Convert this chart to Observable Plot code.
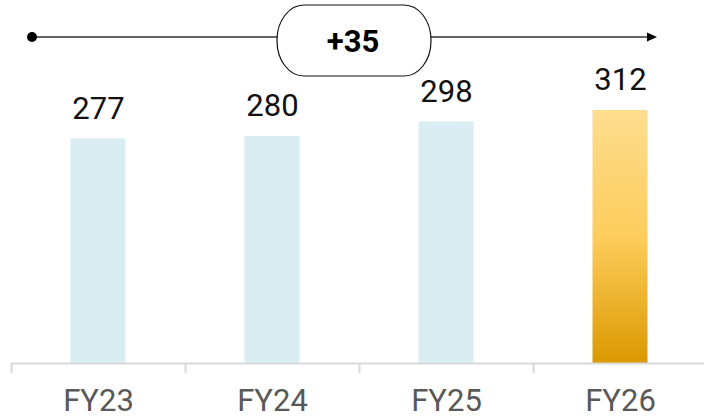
<!DOCTYPE html>
<html>
<head>
<meta charset="utf-8">
<script src="https://cdn.jsdelivr.net/npm/d3@7"></script>
<script src="https://cdn.jsdelivr.net/npm/@observablehq/plot@0.6"></script>
<style>
  html, body { margin: 0; padding: 0; background: #ffffff; }
  #chart { width: 704px; height: 420px; overflow: hidden; }
</style>
</head>
<body>
<div id="chart"></div>
<script>
const years = ["FY23", "FY24", "FY25", "FY26"];
const values = [277, 280, 298, 312];
const highlightYear = "FY26";

const data = years.map((year, i) => ({year, value: values[i]}));
const change = values[values.length - 1] - values[0];
const changeLabel = (change >= 0 ? "+" : "") + change;

const FONT = "Roboto, 'Noto Sans', sans-serif";

function gradientDefs() {
  const defs = d3.create("svg:defs");
  const g = defs.append("linearGradient")
    .attr("id", "goldGrad")
    .attr("x1", 0).attr("y1", 0).attr("x2", 0).attr("y2", 1);
  g.append("stop").attr("offset", "0%").attr("stop-color", "#fddd8f");
  g.append("stop").attr("offset", "50%").attr("stop-color", "#fdcd5c");
  g.append("stop").attr("offset", "100%").attr("stop-color", "#db9900");
  return defs.node();
}

function annotation(index, scales, vals, dimensions) {
  const x = scales.x;
  const step = x(years[1]) - x(years[0]);
  const bw = x.bandwidth ? x.bandwidth() : step;
  const yLine = dimensions.marginTop;
  const xStart = x(years[0]) + bw / 2 - 66;
  const xEnd = x(years[years.length - 1]) + bw / 2 + 37;
  const pillCx = x(years[2]) - 5;
  const pillW = 154, pillH = 71;
  const pillTop = yLine - 32;

  const g = d3.create("svg:g");
  g.append("line")
    .attr("x1", xStart).attr("x2", xEnd - 6)
    .attr("y1", yLine).attr("y2", yLine)
    .attr("stroke", "#333").attr("stroke-width", 1.6);
  g.append("circle")
    .attr("cx", xStart).attr("cy", yLine).attr("r", 5)
    .attr("fill", "#000");
  g.append("path")
    .attr("d", `M${xEnd},${yLine} L${xEnd - 10},${yLine - 4.5} L${xEnd - 10},${yLine + 4.5} Z`)
    .attr("fill", "#000");
  g.append("rect")
    .attr("x", pillCx - pillW / 2).attr("y", pillTop)
    .attr("width", pillW).attr("height", pillH)
    .attr("rx", 27).attr("ry", 35)
    .attr("fill", "#fff").attr("stroke", "#111").attr("stroke-width", 1.2);
  g.append("text")
    .attr("x", pillCx - 1).attr("y", pillTop + 47)
    .attr("text-anchor", "middle")
    .attr("font-family", FONT)
    .attr("font-weight", "bold")
    .attr("font-size", 31)
    .attr("fill", "#000")
    .text(changeLabel);
  return g.node();
}

const plot = Plot.plot({
  width: 704,
  height: 420,
  marginTop: 37,
  marginBottom: 57,
  marginLeft: 11,
  marginRight: 0,
  style: {fontFamily: FONT, background: "#ffffff", overflow: "visible"},
  x: {domain: years, range: [11, 707], padding: 0, label: null},
  y: {domain: [0, 402], axis: null},
  marks: [
    gradientDefs,
    Plot.barY(data.filter(d => d.year !== highlightYear), {
      x: "year", y: "value", fill: "#daedf3", insetLeft: 59.5, insetRight: 59.5
    }),
    Plot.barY(data.filter(d => d.year === highlightYear), {
      x: "year", y: "value", fill: "url(#goldGrad)", insetLeft: 59.5, insetRight: 59.5
    }),
    Plot.ruleY([0], {stroke: "#d9d9d9", strokeWidth: 2}),
    Plot.ruleX(years, {x: d => d, dx: -87, y1: 0, y2: 0, insetBottom: -10, stroke: "#d9d9d9", strokeWidth: 2}),
    Plot.text(data, {
      x: "year", y: "value", text: d => String(d.value),
      lineAnchor: "bottom", dy: -20, fontSize: 31, fill: "#111"
    }),
    Plot.axisX({tickSize: 0, tickPadding: 25, fontSize: 31, color: "#595959", label: null}),
    annotation
  ]
});

document.getElementById("chart").appendChild(plot);
</script>
</body>
</html>
